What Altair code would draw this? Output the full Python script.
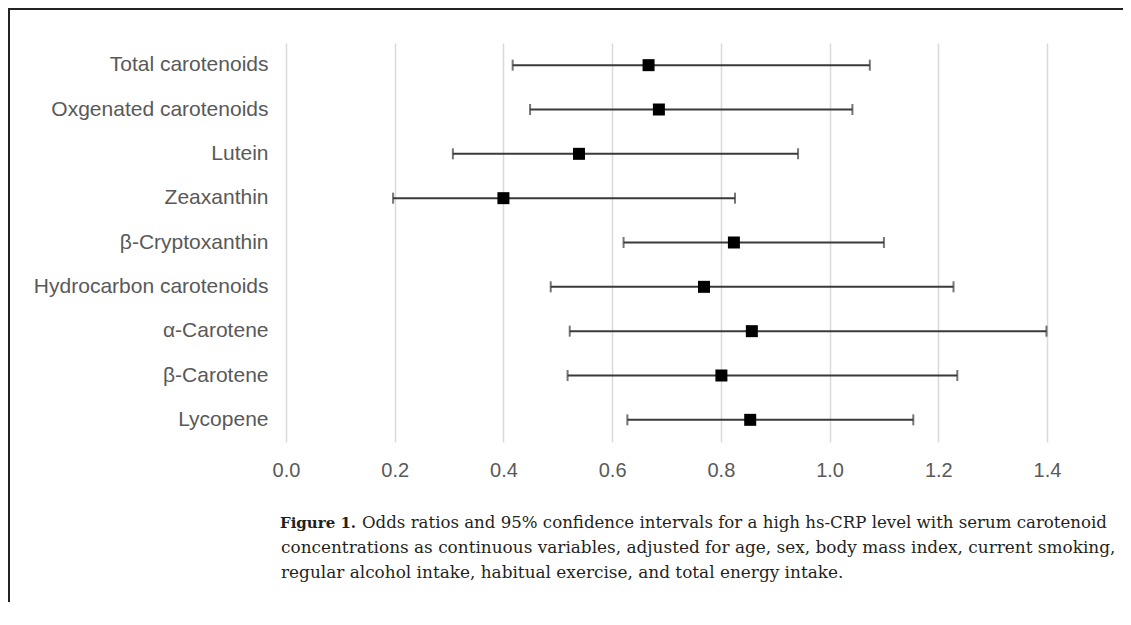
import altair as alt
import pandas as pd

categories = ["Total carotenoids", "Oxgenated carotenoids", "Lutein", "Zeaxanthin",
              "β-Cryptoxanthin", "Hydrocarbon carotenoids", "α-Carotene",
              "β-Carotene", "Lycopene"]
odds_ratio = [0.667, 0.686, 0.539, 0.400, 0.824, 0.769, 0.857, 0.801, 0.854]
ci_lower = [0.417, 0.449, 0.307, 0.197, 0.621, 0.487, 0.522, 0.518, 0.628]
ci_upper = [1.074, 1.042, 0.942, 0.826, 1.100, 1.228, 1.399, 1.235, 1.154]
x_ticks = [0.0, 0.2, 0.4, 0.6, 0.8, 1.0, 1.2, 1.4]

caption_bold = "Figure 1."
caption_lines = [
    "Odds ratios and 95% confidence intervals for a high hs-CRP level with serum carotenoid",
    "concentrations as continuous variables, adjusted for age, sex, body mass index, current smoking,",
    "regular alcohol intake, habitual exercise, and total energy intake.",
]

df = pd.DataFrame({"name": categories, "or": odds_ratio, "lo": ci_lower, "hi": ci_upper})

AX_FONT = "Liberation Sans"
LBL = "#595959"
BAR = "#3a3a3a"
CAP_FONT = "DejaVu Serif"
CAP_COLOR = "#231f20"

xscale = alt.Scale(domain=[0, 1.4], nice=False, zero=False)
yenc = alt.Y("name:N", sort=categories,
             axis=alt.Axis(title=None, domain=False, ticks=False, grid=False,
                           labelFontSize=21, labelColor=LBL, labelFont=AX_FONT,
                           labelPadding=18, labelLimit=500))

base = alt.Chart(df).encode(y=yenc)

rule = base.mark_rule(color=BAR, strokeWidth=2).encode(
    x=alt.X("lo:Q", scale=xscale,
            axis=alt.Axis(title=None, values=x_ticks, format=".1f", grid=True,
                          gridColor="#d9d9d9", gridWidth=1.5, domain=False,
                          ticks=False, tickSize=0, labelFontSize=20,
                          labelColor=LBL, labelFont=AX_FONT, labelPadding=18,
                          labelFlush=False, labelOverlap=False)),
    x2="hi:Q",
)
cap_lo = base.mark_tick(color=BAR, thickness=2, size=11).encode(x=alt.X("lo:Q", scale=xscale))
cap_hi = base.mark_tick(color=BAR, thickness=2, size=11).encode(x=alt.X("hi:Q", scale=xscale))
pts = base.mark_square(size=144, color="black", filled=True, opacity=1).encode(
    x=alt.X("or:Q", scale=xscale))

cap_b = alt.Chart(pd.DataFrame({"t": [caption_bold]})).mark_text(
    font=CAP_FONT, fontSize=15, fontWeight="bold", color=CAP_COLOR,
    align="left", baseline="alphabetic").encode(
    text="t:N", x=alt.value(-6), y=alt.value(485))

cap_sizes = [16.6, 16.9, 16.9]
cap_layers = []
for i, line in enumerate(caption_lines):
    cap_layers.append(
        alt.Chart(pd.DataFrame({"t": [line]})).mark_text(
            font=CAP_FONT, fontSize=cap_sizes[i], color=CAP_COLOR,
            align="left", baseline="alphabetic").encode(
            text="t:N", x=alt.value(76 if i == 0 else -5), y=alt.value(485 + 25 * i))
    )

frame_df = pd.DataFrame({"k": [0]})
top_line = alt.Chart(frame_df).mark_rule(color="#222222", strokeWidth=2).encode(
    x=alt.value(-278), x2=alt.value(850), y=alt.value(-34))
left_line = alt.Chart(frame_df).mark_rule(color="#222222", strokeWidth=2).encode(
    x=alt.value(-277), y=alt.value(-35), y2=alt.value(560))

chart = alt.layer(rule, cap_lo, cap_hi, pts, cap_b, *cap_layers, top_line, left_line).properties(
    width=761, height=399,
    autosize=alt.AutoSizeParams(type="none"),
    padding={"left": 278, "top": 35, "right": 76, "bottom": 160},
).configure_view(stroke=None)

chart.save("out.html", embed_options={"renderer": "svg", "actions": False})
